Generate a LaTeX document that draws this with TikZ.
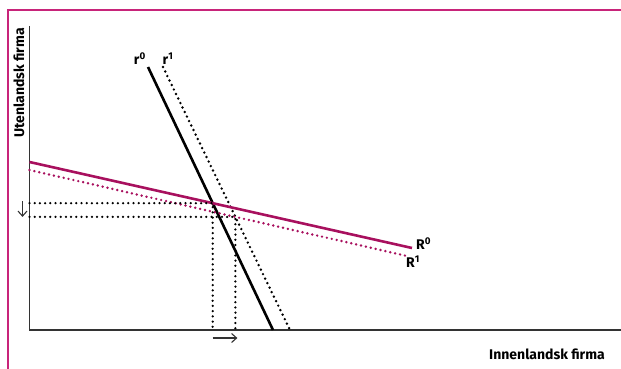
\documentclass[tikz,border=0pt]{standalone}
\usepackage{fontspec}
\setsansfont{Fira Sans}
\usepackage{tikz}
\usetikzlibrary{arrows.meta, calc}
\definecolor{framepink}{HTML}{C8247A}
\definecolor{curvepink}{HTML}{A8105E}
\definecolor{axisgray}{HTML}{333333}

\begin{document}
\begin{tikzpicture}[x=1pt, y=-1pt,
    frame/.style  = {framepink, line width=2pt},
    axis/.style   = {axisgray, line width=1.3pt},
    react/.style  = {black, line width=2.6pt},
    reactdot/.style = {black, line width=2.7pt, dash pattern=on 0pt off 5pt, line cap=round},
    curve/.style  = {curvepink, line width=2.6pt},
    curvedot/.style = {curvepink, line width=2.7pt, dash pattern=on 0pt off 5pt, line cap=round},
    guide/.style  = {black, line width=2.5pt, dash pattern=on 0pt off 5.2pt, line cap=round},
    move/.style   = {-{Straight Barb[length=5pt, width=9pt]}, axisgray, line width=1.1pt},
    lab/.style    = {font=\sffamily\bfseries\fontsize{14}{16}\selectfont, inner sep=1pt},
  ]
    \useasboundingbox (0,0) rectangle (621,369);

    % ── Frame and axes ───────────────────────────────────────
    \draw[frame] (8,369) -- (8,10) -- (621,10);
    \coordinate (origin) at (29.5,330);
    \coordinate (ytop)   at (29.5,26);
    \coordinate (xend)   at (621,330);
    \draw[axis] (ytop) -- (origin) -- (xend);
    \node[lab, rotate=90, anchor=east] (ylab) at (19,27) {Utenlandsk firma};
    \node[lab, anchor=base east] (xlab) at (606,359) {Innenlandsk firma};

    % ── Reaction curves ──────────────────────────────────────
    \coordinate (r0a) at (148,67);  \coordinate (r0b) at (273,330);
    \coordinate (r1a) at (163,67);  \coordinate (r1b) at (290,330);
    \coordinate (R0a) at (29.5,162); \coordinate (R0b) at (412,248);
    \coordinate (R1a) at (29.5,170); \coordinate (R1b) at (407,256);
    \draw[react]    (r0a) -- (r0b);
    \draw[reactdot] (r1a) -- (r1b);
    \draw[curve]    (R0a) -- (R0b);
    \draw[curvedot] (R1a) -- (R1b);
    \node[lab, anchor=south east] (r0lab) at ($(r0a)+(-1,-1)$) {r\textsuperscript{0}};
    \node[lab, anchor=south] (r1lab) at ($(r1a)+(5,-1)$) {r\textsuperscript{1}};
    \node[lab, anchor=west] (R0lab) at ($(R0b)+(3,-4)$) {R\textsuperscript{0}};
    \node[lab, anchor=west] (R1lab) at ($(R1b)+(-2,6)$) {R\textsuperscript{1}};

    % ── Equilibria ───────────────────────────────────────────
    \coordinate (eq0) at (intersection of r0a--r0b and R0a--R0b);
    \coordinate (eq1) at (intersection of r1a--r1b and R1a--R1b);
    \draw[guide] (origin |- eq0) -- (eq0) -- (eq0 |- origin);
    \draw[guide] (origin |- eq1) -- (eq1) -- (eq1 |- origin);

    % ── Shifts ───────────────────────────────────────────────
    \coordinate (dtop) at ($(origin |- eq0)+(-7,-2)$);
    \coordinate (dbot) at ($(origin |- eq1)+(-7,0)$);
    \draw[move] (dtop) -- (dbot);
    \coordinate (rleft)  at ($(eq0 |- origin)+(0,8)$);
    \coordinate (rright) at ($(eq1 |- origin)+(2,8)$);
    \draw[move] (rleft) -- (rright);
  \end{tikzpicture}
\end{document}
